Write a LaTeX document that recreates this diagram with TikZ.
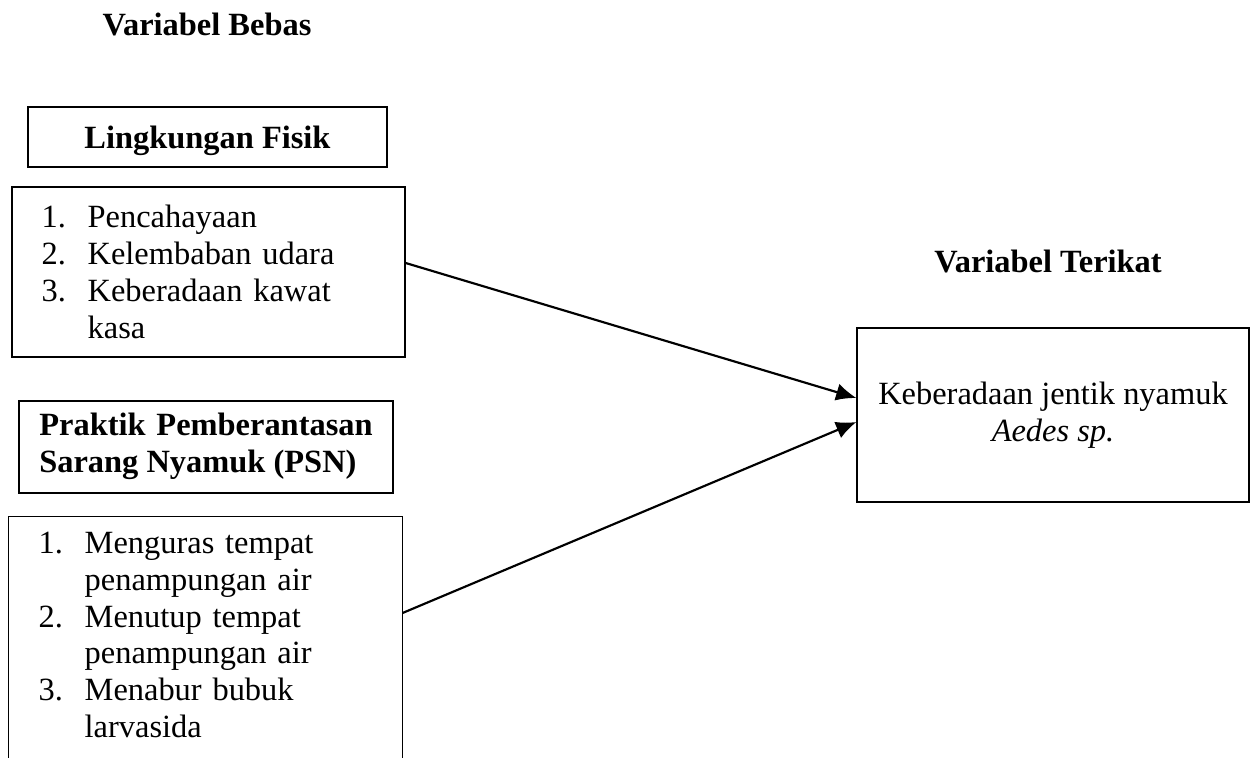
\documentclass[tikz,border=0pt]{standalone}
\usepackage{fontspec}
\setmainfont{Liberation Serif}
\usetikzlibrary{arrows.meta,calc}

\newcommand{\butir}[1]{\makebox[17pt][l]{#1}}

\tikzset{
  kotak/.style={draw, line width=0.5pt, inner sep=0pt},
  judul/.style={font=\fontsize{12}{13.6}\selectfont\bfseries},
  panah/.style={-{Latex[length=7.5pt,width=6.5pt]}, line width=0.8pt},
}

\begin{document}
\begin{tikzpicture}[x=0.37pt,y=-0.37pt,every node/.style={font=\fontsize{12}{13.6}\selectfont}]
                \useasboundingbox (0,0) rectangle (1251,757);
                \clip (0,0) rectangle (1251,757);

                \node[judul,anchor=base] (bebas) at (207,35) {Variabel Bebas};
                \node[judul,anchor=base] (terikat) at (1048,272) {Variabel Terikat};

                \node[kotak,judul,minimum width=132.8pt,minimum height=22.2pt,text depth=0pt] (fisik) at (207.5,137) {Lingkungan Fisik};
                \node[kotak,minimum width=145.4pt,minimum height=62.9pt,text width=123.4pt,align=left] (lst1) at (208.5,272)
                    {\butir{1.}Pencahayaan\\\butir{2.}Kelembaban udara\\\butir{3.}Keberadaan kawat\\\butir{}kasa};

                \node[kotak,judul,minimum width=138.4pt,minimum height=34pt,align=left] (psn) at (206,447)
                    {Praktik\hspace{4pt}Pemberantasan\\Sarang Nyamuk (PSN)\rule[-3pt]{0pt}{0pt}};
                \node[inner sep=0pt,minimum width=145.4pt,minimum height=87.3pt,text width=123.4pt,align=left] (lst2) at (205.5,635)
                    {\butir{1.}Menguras tempat\\\butir{}penampungan air\\\butir{2.}Menutup tempat\\\butir{}penampungan air\\\butir{3.}Menabur bubuk\\\butir{}larvasida};
                \draw[line width=0.5pt] ($(lst2.south west)+(0,20)$) -- (lst2.north west) -- (lst2.north east) -- ($(lst2.south east)+(0,20)$);

                \node[kotak,minimum width=145pt,minimum height=64.4pt,align=center] (jentik) at (1053,415)
                    {Keberadaan jentik nyamuk\\\textit{Aedes sp.}};

                \draw[panah] ($(lst1.east)+(0,-9)$) -- ($(jentik.west)+(0,-17)$);
                \draw[panah] ($(lst2.east)+(0,-22)$) -- ($(jentik.west)+(0,7)$);
\end{tikzpicture}
\end{document}
